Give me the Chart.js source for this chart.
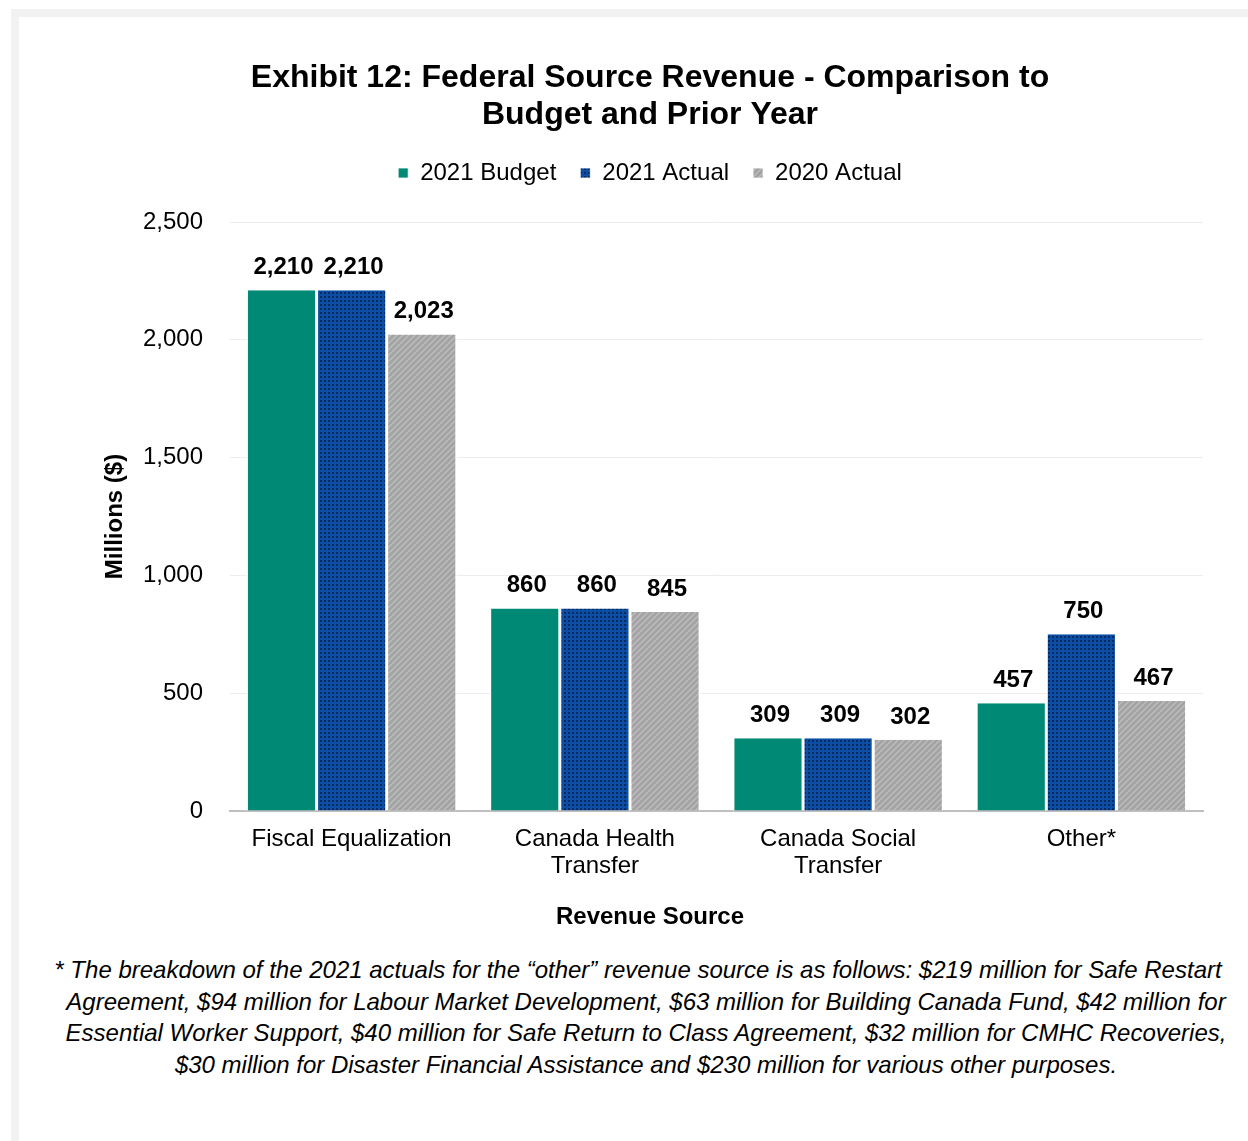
<!DOCTYPE html>
<html>
<head>
<meta charset="utf-8">
<script src="https://cdn.jsdelivr.net/npm/chart.js@4.4.1/dist/chart.umd.min.js"></script>
<style>
body{margin:0;background:#fff;width:1248px;height:1141px;position:relative;overflow:hidden;font-family:"Liberation Sans",Arial,sans-serif;}
#frameTop{position:absolute;left:11px;top:9px;width:1237px;height:8px;background:#f2f2f2;}
#frameLeft{position:absolute;left:11px;top:9px;width:8px;height:1132px;background:#f2f2f2;}
#wrap{position:absolute;left:52px;top:20px;width:1196px;height:920px;}
#note{position:absolute;left:44px;top:954px;width:1204px;text-align:center;font-style:italic;font-size:24px;line-height:31.5px;color:#000;white-space:nowrap;}
#note .first{position:relative;left:-8px;}
</style>
</head>
<body>
<div id="frameTop"></div>
<div id="frameLeft"></div>
<div id="wrap"><canvas id="chart"></canvas></div>
<div id="note"><span class="first">* The breakdown of the 2021 actuals for the “other” revenue source is as follows: $219 million for Safe Restart</span><br>Agreement, $94 million for Labour Market Development, $63 million for Building Canada Fund, $42 million for<br>Essential Worker Support, $40 million for Safe Return to Class Agreement, $32 million for CMHC Recoveries,<br>$30 million for Disaster Financial Assistance and $230 million for various other purposes.</div>
<script>
const categories = ['Fiscal Equalization', ['Canada Health', 'Transfer'], ['Canada Social', 'Transfer'], 'Other*'];
const seriesNames = ['2021 Budget', '2021 Actual', '2020 Actual'];
const budget2021 = [2210, 860, 309, 457];
const actual2021 = [2210, 860, 309, 750];
const actual2020 = [2023, 845, 302, 467];
const yMax = 2500;
const yStep = 500;
const FONT = '"Liberation Sans", Arial, sans-serif';

const ctx = document.getElementById('chart');
const ctx2d = ctx.getContext('2d');

// small tiles for the patterned fills
function dotPattern(){
    const c = document.createElement('canvas');
    c.width = 4; c.height = 4;
    const x = c.getContext('2d');
    x.fillStyle = '#0c4ea3';
    x.fillRect(0, 0, 4, 4);
    x.fillStyle = '#062a62';
    x.fillRect(0, 0, 2, 2);
    return ctx2d.createPattern(c, 'repeat');
}
function stripePattern(){
    const c = document.createElement('canvas');
    c.width = 6; c.height = 6;
    const x = c.getContext('2d');
    x.fillStyle = '#a3a3a3';
    x.fillRect(0, 0, 6, 6);
    x.strokeStyle = '#bcbcbc';
    x.lineWidth = 1.5;
    x.beginPath();
    x.moveTo(-1, 7); x.lineTo(7, -1);
    x.moveTo(-4, 4); x.lineTo(4, -4);
    x.moveTo(2, 10); x.lineTo(10, 2);
    x.stroke();
    return ctx2d.createPattern(c, 'repeat');
}

const valueLabels = {
    id: 'valueLabels',
    afterDatasetsDraw(chart){
        const c = chart.ctx;
        c.save();
        c.font = 'bold 24px ' + FONT;
        c.fillStyle = '#000';
        c.textAlign = 'center';
        c.textBaseline = 'alphabetic';
        chart.data.datasets.forEach((ds, i) => {
            chart.getDatasetMeta(i).data.forEach((bar, j) => {
                c.fillText(ds.data[j].toLocaleString('en-US'), bar.x + 2, bar.y - 16);
            });
        });
        c.restore();
    }
};

// x axis caption is centred on the whole chart, not on the plot area
const xCaption = {
    id: 'xCaption',
    afterDraw(chart){
        const c = chart.ctx;
        c.save();
        c.font = 'bold 24px ' + FONT;
        c.fillStyle = '#000';
        c.textAlign = 'center';
        c.textBaseline = 'middle';
        c.fillText('Revenue Source', chart.width / 2, chart.chartArea.bottom + 106);
        c.restore();
    }
};

const barCommon = {
    borderColor: '#ffffff',
    borderWidth: {left: 1.5, right: 1.5, top: 0, bottom: 0},
    barPercentage: 1,
    categoryPercentage: 0.865
};

new Chart(ctx, {
    type: 'bar',
    data: {
        labels: categories,
        datasets: [
            Object.assign({label: seriesNames[0], data: budget2021, backgroundColor: '#008a75'}, barCommon),
            Object.assign({label: seriesNames[1], data: actual2021, backgroundColor: dotPattern()}, barCommon),
            Object.assign({label: seriesNames[2], data: actual2020, backgroundColor: stripePattern()}, barCommon)
        ]
    },
    options: {
        responsive: true,
        maintainAspectRatio: false,
        animation: false,
        layout: {padding: 0},
        plugins: {
            title: {
                display: true,
                text: ['Exhibit 12: Federal Source Revenue - Comparison to', 'Budget and Prior Year'],
                color: '#000',
                font: {family: FONT, size: 32, weight: 'bold', lineHeight: 1.15},
                padding: {top: 39.6, bottom: 3.8}
            },
            // empty spacer between legend and plot
            subtitle: {
                display: true,
                text: ' ',
                weight: 500,
                font: {size: 10, lineHeight: 1.2},
                padding: {top: 7, bottom: 8}
            },
            legend: {
                position: 'top',
                labels: {
                    color: '#000',
                    font: {family: FONT, size: 24},
                    boxWidth: 10,
                    boxHeight: 10,
                    padding: 24
                }
            },
            tooltip: {enabled: false}
        },
        scales: {
            x: {
                grid: {display: false, drawTicks: false},
                border: {color: '#bfbfbf', width: 2},
                ticks: {
                    color: '#000',
                    font: {family: FONT, size: 24, lineHeight: 1.125},
                    padding: 15,
                    maxRotation: 0,
                    autoSkip: false
                },
                afterFit(scale){ scale.height = 129; }
            },
            y: {
                min: 0,
                max: yMax,
                grid: {color: '#ececec', lineWidth: 1, drawTicks: false},
                border: {display: false},
                ticks: {
                    stepSize: yStep,
                    color: '#000',
                    font: {family: FONT, size: 24},
                    padding: 27,
                    callback: v => v.toLocaleString('en-US')
                },
                title: {
                    display: true,
                    text: 'Millions ($)',
                    color: '#000',
                    font: {family: FONT, size: 24, weight: 'bold'},
                    padding: {top: 49, bottom: 0}
                },
                afterFit(scale){ scale.width = 178; }
            },
            // keeps 45px free on the right so the title stays centred on the page
            pad: {
                position: 'right',
                grid: {display: false, drawTicks: false},
                border: {display: false},
                ticks: {display: false},
                afterFit(scale){ scale.width = 45; }
            }
        }
    },
    plugins: [valueLabels, xCaption]
});
</script>
</body>
</html>
